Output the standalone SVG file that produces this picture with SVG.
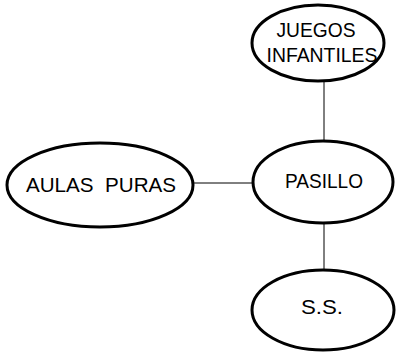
<svg xmlns="http://www.w3.org/2000/svg" width="396" height="353" viewBox="0 0 396 353">
<style>
.n ellipse{fill:#fff;stroke:#000;stroke-width:3}
.c line{stroke:#000;stroke-width:1}
text{font-family:"Liberation Sans",Arial,sans-serif;font-size:21px;fill:#000;text-anchor:middle}
</style>
<rect width="396" height="353" fill="#fff"/>
<g class="c" id="connectors">
<line x1="324" y1="80" x2="324" y2="142"/>
<line x1="192" y1="183" x2="254" y2="183"/>
<line x1="324" y1="223" x2="324" y2="270"/>
</g>
<g class="n" id="juegos">
<ellipse cx="318" cy="43" rx="66" ry="38"/>
<text x="316" y="37" textLength="79" lengthAdjust="spacingAndGlyphs">JUEGOS</text>
<text x="322" y="62" textLength="111" lengthAdjust="spacingAndGlyphs">INFANTILES</text>
</g>
<g class="n" id="aulas">
<ellipse cx="100" cy="185" rx="93" ry="42"/>
<text x="101" y="192" xml:space="preserve" textLength="150" lengthAdjust="spacingAndGlyphs">AULAS  PURAS</text>
</g>
<g class="n" id="pasillo">
<ellipse cx="323" cy="182" rx="70" ry="41"/>
<text x="324" y="188" textLength="78" lengthAdjust="spacingAndGlyphs">PASILLO</text>
</g>
<g class="n" id="ss">
<ellipse cx="323" cy="310" rx="71" ry="40"/>
<text x="322" y="314" textLength="42" lengthAdjust="spacingAndGlyphs">S.S.</text>
</g>
</svg>
